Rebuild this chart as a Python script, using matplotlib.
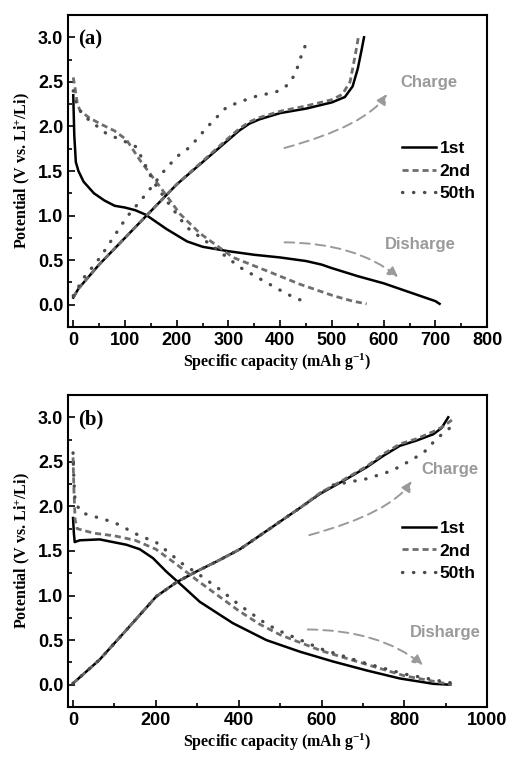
import matplotlib
matplotlib.use('Agg')
import matplotlib.pyplot as plt
from matplotlib.patches import FancyArrowPatch
from matplotlib.ticker import MultipleLocator

plt.rcParams['mathtext.default'] = 'regular'

# ---- panel (a) ----
a_dis1_x = [0, 2, 5, 10, 20, 40, 60, 80, 100, 120, 140, 160, 180, 200, 220, 250, 300, 350, 400, 450, 480, 500, 550, 600, 650, 700, 708]
a_dis1_y = [2.35, 1.9, 1.6, 1.5, 1.38, 1.25, 1.17, 1.11, 1.09, 1.06, 1.01, 0.93, 0.85, 0.78, 0.71, 0.65, 0.60, 0.56, 0.53, 0.49, 0.45, 0.41, 0.32, 0.24, 0.14, 0.04, 0.01]
a_chg1_x = [0, 10, 50, 100, 150, 200, 250, 300, 320, 340, 360, 400, 450, 500, 525, 540, 550, 557, 562]
a_chg1_y = [0.08, 0.18, 0.45, 0.75, 1.05, 1.35, 1.60, 1.85, 1.95, 2.03, 2.08, 2.15, 2.20, 2.27, 2.33, 2.45, 2.65, 2.85, 3.00]
a_dis2_x = [0, 3, 8, 13, 30, 52, 80, 103, 129, 168, 206, 245, 309, 374, 438, 503, 540, 567]
a_dis2_y = [2.55, 2.45, 2.25, 2.18, 2.10, 2.03, 1.95, 1.85, 1.62, 1.32, 1.02, 0.80, 0.53, 0.38, 0.23, 0.10, 0.04, 0.01]
a_chg2_x = [0, 10, 50, 100, 150, 200, 250, 300, 320, 340, 360, 400, 450, 500, 520, 535, 545, 551]
a_chg2_y = [0.08, 0.18, 0.45, 0.75, 1.05, 1.35, 1.61, 1.87, 1.97, 2.05, 2.10, 2.17, 2.23, 2.30, 2.36, 2.50, 2.80, 3.00]
a_dis50_x = [0, 3, 8, 20, 40, 64, 100, 122, 155, 180, 219, 271, 322, 367, 413, 442]
a_dis50_y = [2.40, 2.30, 2.22, 2.12, 2.03, 1.92, 1.83, 1.77, 1.38, 1.17, 0.87, 0.65, 0.42, 0.27, 0.12, 0.045]
a_chg50_x = [0, 20, 52, 103, 142, 174, 200, 226, 245, 265, 297, 348, 393, 416, 430, 438, 448]
a_chg50_y = [0.10, 0.30, 0.53, 0.98, 1.25, 1.49, 1.66, 1.77, 1.90, 2.03, 2.22, 2.33, 2.39, 2.47, 2.60, 2.75, 2.90]

# ---- panel (b) ----
b_dis1_x = [0, 2, 4, 16, 64, 129, 161, 193, 225, 266, 306, 386, 467, 548, 628, 709, 789, 870, 910]
b_dis1_y = [1.87, 1.70, 1.60, 1.62, 1.63, 1.57, 1.52, 1.42, 1.27, 1.10, 0.93, 0.69, 0.50, 0.37, 0.26, 0.16, 0.07, 0.01, 0.0]
b_chg1_x = [0, 64, 130, 201, 250, 298, 350, 403, 450, 500, 550, 596, 650, 709, 750, 789, 830, 870, 890, 906]
b_chg1_y = [0.015, 0.28, 0.62, 0.99, 1.15, 1.27, 1.39, 1.52, 1.67, 1.83, 1.99, 2.14, 2.28, 2.44, 2.57, 2.68, 2.74, 2.81, 2.88, 3.00]
b_dis2_x = [0, 2, 5, 10, 50, 100, 150, 200, 250, 300, 350, 400, 450, 500, 600, 700, 800, 880, 915]
b_dis2_y = [2.55, 2.20, 1.85, 1.75, 1.70, 1.67, 1.62, 1.52, 1.35, 1.17, 1.00, 0.83, 0.68, 0.56, 0.38, 0.24, 0.10, 0.03, 0.0]
b_chg2_x = [0, 64, 130, 201, 250, 298, 350, 403, 450, 500, 550, 596, 650, 709, 750, 789, 830, 870, 895, 915]
b_chg2_y = [0.015, 0.28, 0.62, 0.99, 1.15, 1.27, 1.39, 1.52, 1.67, 1.83, 1.99, 2.15, 2.29, 2.45, 2.59, 2.70, 2.76, 2.84, 2.90, 2.97]
b_dis50_x = [0, 2, 5, 20, 100, 161, 200, 266, 300, 354, 400, 467, 500, 600, 700, 800, 900, 930]
b_dis50_y = [2.60, 2.30, 2.05, 1.93, 1.82, 1.67, 1.60, 1.35, 1.25, 1.07, 0.90, 0.68, 0.60, 0.40, 0.25, 0.12, 0.03, 0.01]
b_chg50_x = [0, 64, 130, 201, 250, 298, 350, 403, 450, 500, 550, 596, 628, 709, 770, 821, 850, 878, 918]
b_chg50_y = [0.015, 0.28, 0.62, 0.99, 1.15, 1.27, 1.39, 1.52, 1.67, 1.83, 1.99, 2.14, 2.24, 2.31, 2.40, 2.53, 2.62, 2.76, 2.91]

legend_labels = ['1st', '2nd', '50th']

panels = [
    dict(tag='(a)', xlim=(-10, 800), xmaj=100, xmin=50,
         d1=(a_dis1_x, a_dis1_y), c1=(a_chg1_x, a_chg1_y),
         d2=(a_dis2_x, a_dis2_y), c2=(a_chg2_x, a_chg2_y),
         d50=(a_dis50_x, a_dis50_y), c50=(a_chg50_x, a_chg50_y),
         charge_arrow=((403, 1.75), (609, 2.39)), charge_txt=(687, 2.49),
         dis_arrow=((403, 0.70), (632, 0.29)), dis_txt=(670, 0.67),
         rect=[0.134, 0.5686, 0.825, 0.4116]),
    dict(tag='(b)', xlim=(-12, 1000), xmaj=200, xmin=100,
         d1=(b_dis1_x, b_dis1_y), c1=(b_chg1_x, b_chg1_y),
         d2=(b_dis2_x, b_dis2_y), c2=(b_chg2_x, b_chg2_y),
         d50=(b_dis50_x, b_dis50_y), c50=(b_chg50_x, b_chg50_y),
         charge_arrow=((564, 1.67), (821, 2.31)), charge_txt=(910, 2.41),
         dis_arrow=((560, 0.62), (850, 0.20)), dis_txt=(898, 0.59),
         rect=[0.134, 0.0673, 0.825, 0.4116]),
]

fig = plt.figure(figsize=(5.08, 7.58), dpi=100)

serif = dict(family='Liberation Serif', weight='bold')
sans = dict(family='Liberation Sans', weight='bold')

for p in panels:
    ax = fig.add_axes(p['rect'])
    s1 = dict(color='black', lw=1.8)
    s2 = dict(color='#6e6e6e', lw=2.0, linestyle=(0, (2.2, 1.4)))
    s50 = dict(color='#4a4a4a', lw=2.4, linestyle=(0, (0.1, 3.2)), dash_capstyle='round')
    ax.plot(*p['d1'], **s1, label=legend_labels[0])
    ax.plot(*p['c1'], **s1)
    ax.plot(*p['d2'], **s2, label=legend_labels[1])
    ax.plot(*p['c2'], **s2)
    ax.plot(*p['d50'], **s50, label=legend_labels[2])
    ax.plot(*p['c50'], **s50)

    arrows = ((p['charge_arrow'], 'angle3,angleA=15,angleB=60'),
              (p['dis_arrow'], 'angle3,angleA=0,angleB=-40'))
    for (start, end), cs in arrows:
        arr = FancyArrowPatch(start, end, connectionstyle=cs,
                              arrowstyle='-|>,head_length=6,head_width=3',
                              color='#9a9a9a', lw=1.4, linestyle=(0, (5, 3)))
        ax.add_patch(arr)
    ax.text(*p['charge_txt'], 'Charge', color='#9a9a9a', fontsize=12, ha='center', va='center', **sans)
    ax.text(*p['dis_txt'], 'Disharge', color='#9a9a9a', fontsize=12, ha='center', va='center', **sans)
    ax.text(0.024, 0.955, p['tag'], transform=ax.transAxes, fontsize=15, va='top', **serif)

    ax.set_xlim(*p['xlim'])
    ax.set_ylim(-0.25, 3.25)
    ax.xaxis.set_major_locator(MultipleLocator(p['xmaj']))
    ax.xaxis.set_minor_locator(MultipleLocator(p['xmin']))
    ax.yaxis.set_major_locator(MultipleLocator(0.5))
    ax.yaxis.set_minor_locator(MultipleLocator(0.25))
    ax.tick_params(which='both', direction='in', width=1.2)
    ax.tick_params(which='major', length=5)
    ax.tick_params(which='minor', length=3)
    for lab in ax.get_xticklabels() + ax.get_yticklabels():
        lab.set_fontfamily('Liberation Sans')
        lab.set_fontweight('bold')
        lab.set_fontsize(13)
    for sp in ax.spines.values():
        sp.set_linewidth(1.5)

    ax.set_xlabel('Specific capacity (mAh g$^{-1}$)', fontsize=11.5, labelpad=2, **serif)
    ax.set_ylabel('Potential (V vs. Li$^{+}$/Li)', fontsize=11.5, labelpad=4, **serif)

    ax.legend(loc='center right', bbox_to_anchor=(1.01, 0.50), frameon=False,
              prop=dict(family='Liberation Sans', weight='bold', size=12.5),
              handlelength=2.0, handletextpad=0.2, labelspacing=0.4)

fig.savefig('out.png', dpi=100)
